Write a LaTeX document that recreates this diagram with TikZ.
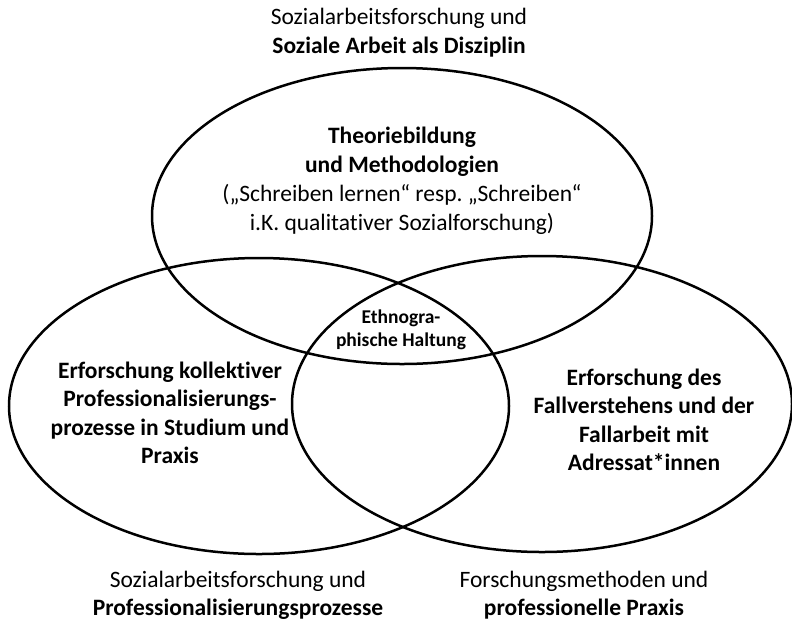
\documentclass[tikz,border=0pt]{standalone}
\usepackage{fontspec}
\setmainfont[Ligatures=NoCommon]{Carlito}
\frenchspacing
\usetikzlibrary{shapes.geometric}
\begin{document}
\begin{tikzpicture}[x=1pt, y=-1pt, ring/.style={ellipse, draw, line width=2.5pt, minimum width=500pt, minimum height=296pt, inner sep=0pt}, txt/.style={align=center, inner sep=0pt, font=\fontsize{23.5}{29}\selectfont}]
            \useasboundingbox (0,0) rectangle (792,622);

            \node[ring] (t) at (402, 216) {};
            \node[ring] (l) at (259, 406) {};
            \node[ring] (r) at (542, 404) {};

            \node[txt] (tl) at (399, 33) {Sozialarbeitsforschung und\\\textbf{Soziale Arbeit als Disziplin}};
            \node[txt] (tt) at (402, 181) {\textbf{Theoriebildung}\\\textbf{und Methodologien}\\(„Schreiben lernen“ resp. „Schreiben“\\i.K. qualitativer Sozialforschung)};
            \node[txt, font=\fontsize{19.5}{23}\selectfont\bfseries] (e) at (401, 330) {Ethnogra-\\phische Haltung};
            \node[txt, font=\fontsize{23.5}{28.5}\selectfont\bfseries] (lt) at (170, 413) {Erforschung kollektiver\\Professionalisierungs-\\prozesse in Studium und\\Praxis};
            \node[txt, font=\fontsize{23.5}{28.5}\selectfont\bfseries] (rt) at (644, 420) {Erforschung des\\Fallverstehens und der\\Fallarbeit mit\\Adressat*innen};
            \node[txt, font=\fontsize{23.5}{28}\selectfont] (ll) at (238, 595) {Sozialarbeitsforschung und\\\textbf{Professionalisierungsprozesse}};
            \node[txt, font=\fontsize{23.5}{28}\selectfont] (rl) at (584, 595) {Forschungsmethoden und\\\textbf{professionelle Praxis}};
        \end{tikzpicture}
\end{document}
